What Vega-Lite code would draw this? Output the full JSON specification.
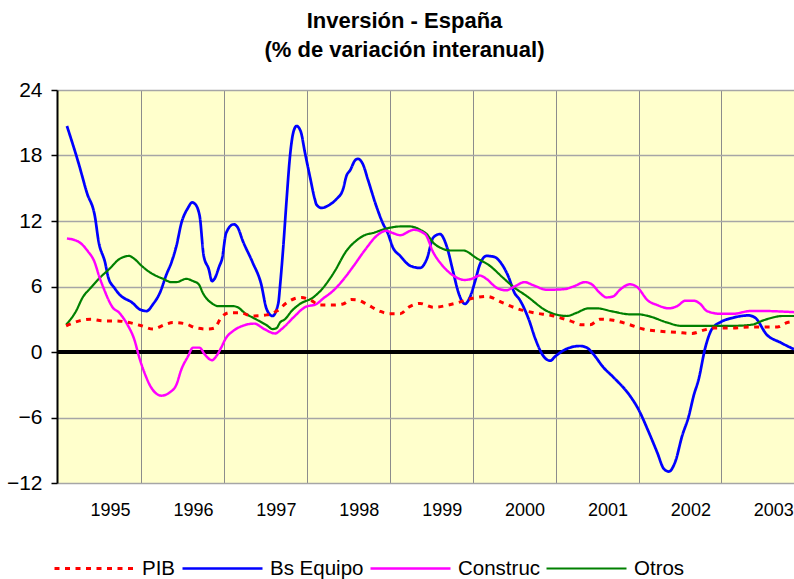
{
 "$schema": "https://vega.github.io/schema/vega-lite/v6.json",
 "width": 737,
 "height": 393,
 "autosize": {"type": "none"},
 "padding": {"left": 57, "top": 90, "right": 0, "bottom": 96},
 "background": "white",
 "title": {"text": ["Inversión - España", "(% de variación interanual)"], "font": "Liberation Sans", "fontSize": 22, "fontWeight": "bold", "lineHeight": 29, "anchor": "middle", "dx": -21, "offset": 17, "color": "black"},
 "config": {
  "view": {"stroke": null, "fill": "#FFFFCC"},
  "font": "Liberation Sans",
  "legend": {"title": null, "orient": "none", "legendX": -4, "legendY": 437, "padding": 0, "direction": "horizontal", "symbolType": "stroke", "symbolSize": 6400, "symbolStrokeWidth": 2.5, "labelFontSize": 20.5, "labelColor": "black", "labelFont": "Liberation Sans", "labelOffset": 6, "columnPadding": 1, "labelLimit": 300}
 },
 "datasets": {
  "d": [
   {"serie":"Bs Equipo","t":1994.48,"v":20.7},{"serie":"Bs Equipo","t":1994.62,"v":17.3},{"serie":"Bs Equipo","t":1994.72,"v":14.6},{"serie":"Bs Equipo","t":1994.82,"v":12.3},{"serie":"Bs Equipo","t":1994.86,"v":10.2},{"serie":"Bs Equipo","t":1994.94,"v":8.2},{"serie":"Bs Equipo","t":1994.98,"v":6.8},{"serie":"Bs Equipo","t":1995.05,"v":5.9},{"serie":"Bs Equipo","t":1995.11,"v":5.3},{"serie":"Bs Equipo","t":1995.27,"v":4.5},{"serie":"Bs Equipo","t":1995.36,"v":3.9},{"serie":"Bs Equipo","t":1995.44,"v":3.75},{"serie":"Bs Equipo","t":1995.52,"v":4.4},{"serie":"Bs Equipo","t":1995.6,"v":5.4},{"serie":"Bs Equipo","t":1995.68,"v":7.1},{"serie":"Bs Equipo","t":1995.74,"v":8.2},{"serie":"Bs Equipo","t":1995.8,"v":9.7},{"serie":"Bs Equipo","t":1995.86,"v":11.8},{"serie":"Bs Equipo","t":1995.94,"v":13.2},{"serie":"Bs Equipo","t":1995.99,"v":13.7},{"serie":"Bs Equipo","t":1996.02,"v":13.6},{"serie":"Bs Equipo","t":1996.08,"v":12.5},{"serie":"Bs Equipo","t":1996.13,"v":8.8},{"serie":"Bs Equipo","t":1996.19,"v":7.6},{"serie":"Bs Equipo","t":1996.23,"v":6.5},{"serie":"Bs Equipo","t":1996.26,"v":6.7},{"serie":"Bs Equipo","t":1996.32,"v":7.9},{"serie":"Bs Equipo","t":1996.35,"v":8.5},{"serie":"Bs Equipo","t":1996.4,"v":10.9},{"serie":"Bs Equipo","t":1996.49,"v":11.7},{"serie":"Bs Equipo","t":1996.54,"v":11.4},{"serie":"Bs Equipo","t":1996.6,"v":10.2},{"serie":"Bs Equipo","t":1996.72,"v":8.2},{"serie":"Bs Equipo","t":1996.82,"v":6.3},{"serie":"Bs Equipo","t":1996.89,"v":3.9},{"serie":"Bs Equipo","t":1996.96,"v":3.3},{"serie":"Bs Equipo","t":1997.03,"v":4.5},{"serie":"Bs Equipo","t":1997.05,"v":6.0},{"serie":"Bs Equipo","t":1997.09,"v":9.7},{"serie":"Bs Equipo","t":1997.13,"v":14.0},{"serie":"Bs Equipo","t":1997.17,"v":17.9},{"serie":"Bs Equipo","t":1997.21,"v":20.1},{"serie":"Bs Equipo","t":1997.25,"v":20.7},{"serie":"Bs Equipo","t":1997.3,"v":20.2},{"serie":"Bs Equipo","t":1997.35,"v":18.3},{"serie":"Bs Equipo","t":1997.41,"v":16.1},{"serie":"Bs Equipo","t":1997.47,"v":14.0},{"serie":"Bs Equipo","t":1997.49,"v":13.5},{"serie":"Bs Equipo","t":1997.55,"v":13.2},{"serie":"Bs Equipo","t":1997.65,"v":13.5},{"serie":"Bs Equipo","t":1997.73,"v":14.0},{"serie":"Bs Equipo","t":1997.81,"v":14.9},{"serie":"Bs Equipo","t":1997.85,"v":16.1},{"serie":"Bs Equipo","t":1997.9,"v":16.7},{"serie":"Bs Equipo","t":1997.95,"v":17.5},{"serie":"Bs Equipo","t":1997.99,"v":17.7},{"serie":"Bs Equipo","t":1998.05,"v":17.2},{"serie":"Bs Equipo","t":1998.11,"v":15.8},{"serie":"Bs Equipo","t":1998.21,"v":13.4},{"serie":"Bs Equipo","t":1998.29,"v":11.8},{"serie":"Bs Equipo","t":1998.35,"v":10.9},{"serie":"Bs Equipo","t":1998.41,"v":9.6},{"serie":"Bs Equipo","t":1998.5,"v":8.8},{"serie":"Bs Equipo","t":1998.62,"v":7.9},{"serie":"Bs Equipo","t":1998.74,"v":7.7},{"serie":"Bs Equipo","t":1998.82,"v":8.5},{"serie":"Bs Equipo","t":1998.9,"v":10.5},{"serie":"Bs Equipo","t":1998.98,"v":10.8},{"serie":"Bs Equipo","t":1999.06,"v":9.7},{"serie":"Bs Equipo","t":1999.14,"v":7.3},{"serie":"Bs Equipo","t":1999.2,"v":5.5},{"serie":"Bs Equipo","t":1999.28,"v":4.4},{"serie":"Bs Equipo","t":1999.34,"v":5.0},{"serie":"Bs Equipo","t":1999.4,"v":6.4},{"serie":"Bs Equipo","t":1999.46,"v":8.0},{"serie":"Bs Equipo","t":1999.54,"v":8.8},{"serie":"Bs Equipo","t":1999.64,"v":8.7},{"serie":"Bs Equipo","t":1999.7,"v":8.3},{"serie":"Bs Equipo","t":1999.8,"v":7.0},{"serie":"Bs Equipo","t":1999.88,"v":5.4},{"serie":"Bs Equipo","t":1999.94,"v":4.8},{"serie":"Bs Equipo","t":2000.05,"v":3.0},{"serie":"Bs Equipo","t":2000.13,"v":1.2},{"serie":"Bs Equipo","t":2000.23,"v":-0.4},{"serie":"Bs Equipo","t":2000.31,"v":-0.8},{"serie":"Bs Equipo","t":2000.37,"v":-0.4},{"serie":"Bs Equipo","t":2000.51,"v":0.3},{"serie":"Bs Equipo","t":2000.67,"v":0.55},{"serie":"Bs Equipo","t":2000.75,"v":0.4},{"serie":"Bs Equipo","t":2000.83,"v":-0.2},{"serie":"Bs Equipo","t":2000.95,"v":-1.4},{"serie":"Bs Equipo","t":2001.07,"v":-2.3},{"serie":"Bs Equipo","t":2001.27,"v":-4.0},{"serie":"Bs Equipo","t":2001.37,"v":-5.2},{"serie":"Bs Equipo","t":2001.49,"v":-7.2},{"serie":"Bs Equipo","t":2001.6,"v":-9.2},{"serie":"Bs Equipo","t":2001.68,"v":-10.7},{"serie":"Bs Equipo","t":2001.74,"v":-10.95},{"serie":"Bs Equipo","t":2001.82,"v":-10.0},{"serie":"Bs Equipo","t":2001.9,"v":-7.7},{"serie":"Bs Equipo","t":2001.98,"v":-5.9},{"serie":"Bs Equipo","t":2002.04,"v":-4.0},{"serie":"Bs Equipo","t":2002.1,"v":-2.5},{"serie":"Bs Equipo","t":2002.18,"v":0.4},{"serie":"Bs Equipo","t":2002.26,"v":2.1},{"serie":"Bs Equipo","t":2002.38,"v":2.8},{"serie":"Bs Equipo","t":2002.52,"v":3.15},{"serie":"Bs Equipo","t":2002.7,"v":3.35},{"serie":"Bs Equipo","t":2002.78,"v":3.15},{"serie":"Bs Equipo","t":2002.92,"v":1.6},{"serie":"Bs Equipo","t":2003.09,"v":0.86},{"serie":"Bs Equipo","t":2003.25,"v":0.25},
   {"serie":"Otros","t":1994.47,"v":2.5},{"serie":"Otros","t":1994.59,"v":3.75},{"serie":"Otros","t":1994.67,"v":5.0},{"serie":"Otros","t":1994.77,"v":5.9},{"serie":"Otros","t":1994.87,"v":6.75},{"serie":"Otros","t":1994.99,"v":7.6},{"serie":"Otros","t":1995.11,"v":8.5},{"serie":"Otros","t":1995.23,"v":8.8},{"serie":"Otros","t":1995.29,"v":8.55},{"serie":"Otros","t":1995.38,"v":7.9},{"serie":"Otros","t":1995.48,"v":7.3},{"serie":"Otros","t":1995.64,"v":6.7},{"serie":"Otros","t":1995.74,"v":6.4},{"serie":"Otros","t":1995.8,"v":6.4},{"serie":"Otros","t":1995.92,"v":6.7},{"serie":"Otros","t":1996.0,"v":6.5},{"serie":"Otros","t":1996.07,"v":6.2},{"serie":"Otros","t":1996.12,"v":5.4},{"serie":"Otros","t":1996.24,"v":4.4},{"serie":"Otros","t":1996.3,"v":4.2},{"serie":"Otros","t":1996.48,"v":4.2},{"serie":"Otros","t":1996.54,"v":4.1},{"serie":"Otros","t":1996.62,"v":3.6},{"serie":"Otros","t":1996.76,"v":3.0},{"serie":"Otros","t":1996.89,"v":2.45},{"serie":"Otros","t":1996.96,"v":2.1},{"serie":"Otros","t":1997.01,"v":2.2},{"serie":"Otros","t":1997.05,"v":2.7},{"serie":"Otros","t":1997.11,"v":3.0},{"serie":"Otros","t":1997.19,"v":3.75},{"serie":"Otros","t":1997.29,"v":4.4},{"serie":"Otros","t":1997.45,"v":5.0},{"serie":"Otros","t":1997.55,"v":5.7},{"serie":"Otros","t":1997.65,"v":6.7},{"serie":"Otros","t":1997.71,"v":7.4},{"serie":"Otros","t":1997.85,"v":9.25},{"serie":"Otros","t":1997.97,"v":10.2},{"serie":"Otros","t":1998.07,"v":10.7},{"serie":"Otros","t":1998.17,"v":10.9},{"serie":"Otros","t":1998.33,"v":11.3},{"serie":"Otros","t":1998.5,"v":11.5},{"serie":"Otros","t":1998.62,"v":11.5},{"serie":"Otros","t":1998.74,"v":11.2},{"serie":"Otros","t":1998.82,"v":10.8},{"serie":"Otros","t":1998.9,"v":10.0},{"serie":"Otros","t":1999.0,"v":9.5},{"serie":"Otros","t":1999.1,"v":9.3},{"serie":"Otros","t":1999.26,"v":9.3},{"serie":"Otros","t":1999.42,"v":8.6},{"serie":"Otros","t":1999.58,"v":7.9},{"serie":"Otros","t":1999.74,"v":6.8},{"serie":"Otros","t":1999.86,"v":6.0},{"serie":"Otros","t":2000.03,"v":5.1},{"serie":"Otros","t":2000.27,"v":3.75},{"serie":"Otros","t":2000.51,"v":3.3},{"serie":"Otros","t":2000.63,"v":3.6},{"serie":"Otros","t":2000.77,"v":4.0},{"serie":"Otros","t":2000.87,"v":4.0},{"serie":"Otros","t":2001.07,"v":3.7},{"serie":"Otros","t":2001.27,"v":3.45},{"serie":"Otros","t":2001.37,"v":3.45},{"serie":"Otros","t":2001.49,"v":3.3},{"serie":"Otros","t":2001.72,"v":2.7},{"serie":"Otros","t":2001.88,"v":2.4},{"serie":"Otros","t":2002.28,"v":2.4},{"serie":"Otros","t":2002.52,"v":2.4},{"serie":"Otros","t":2002.74,"v":2.5},{"serie":"Otros","t":2002.88,"v":2.9},{"serie":"Otros","t":2003.12,"v":3.3},{"serie":"Otros","t":2003.25,"v":3.3},
   {"serie":"Construc","t":1994.48,"v":10.4},{"serie":"Construc","t":1994.62,"v":10.1},{"serie":"Construc","t":1994.73,"v":9.25},{"serie":"Construc","t":1994.81,"v":8.3},{"serie":"Construc","t":1994.87,"v":6.9},{"serie":"Construc","t":1994.93,"v":5.7},{"serie":"Construc","t":1994.98,"v":4.8},{"serie":"Construc","t":1995.03,"v":4.1},{"serie":"Construc","t":1995.11,"v":3.6},{"serie":"Construc","t":1995.21,"v":2.5},{"serie":"Construc","t":1995.29,"v":1.2},{"serie":"Construc","t":1995.36,"v":-0.7},{"serie":"Construc","t":1995.42,"v":-2.0},{"serie":"Construc","t":1995.5,"v":-3.3},{"serie":"Construc","t":1995.62,"v":-4.0},{"serie":"Construc","t":1995.72,"v":-3.7},{"serie":"Construc","t":1995.8,"v":-3.0},{"serie":"Construc","t":1995.86,"v":-1.6},{"serie":"Construc","t":1995.94,"v":-0.4},{"serie":"Construc","t":1996.0,"v":0.4},{"serie":"Construc","t":1996.08,"v":0.4},{"serie":"Construc","t":1996.14,"v":-0.2},{"serie":"Construc","t":1996.23,"v":-0.75},{"serie":"Construc","t":1996.28,"v":-0.4},{"serie":"Construc","t":1996.34,"v":0.4},{"serie":"Construc","t":1996.4,"v":1.3},{"serie":"Construc","t":1996.48,"v":1.9},{"serie":"Construc","t":1996.6,"v":2.4},{"serie":"Construc","t":1996.74,"v":2.6},{"serie":"Construc","t":1996.86,"v":2.1},{"serie":"Construc","t":1996.99,"v":1.7},{"serie":"Construc","t":1997.07,"v":2.1},{"serie":"Construc","t":1997.21,"v":3.15},{"serie":"Construc","t":1997.35,"v":4.1},{"serie":"Construc","t":1997.49,"v":4.4},{"serie":"Construc","t":1997.57,"v":4.9},{"serie":"Construc","t":1997.69,"v":5.6},{"serie":"Construc","t":1997.81,"v":6.6},{"serie":"Construc","t":1997.93,"v":7.8},{"serie":"Construc","t":1998.09,"v":9.5},{"serie":"Construc","t":1998.21,"v":10.6},{"serie":"Construc","t":1998.33,"v":11.1},{"serie":"Construc","t":1998.41,"v":10.9},{"serie":"Construc","t":1998.5,"v":10.7},{"serie":"Construc","t":1998.62,"v":11.1},{"serie":"Construc","t":1998.66,"v":11.2},{"serie":"Construc","t":1998.8,"v":10.8},{"serie":"Construc","t":1998.9,"v":9.1},{"serie":"Construc","t":1999.0,"v":8.0},{"serie":"Construc","t":1999.14,"v":7.0},{"serie":"Construc","t":1999.28,"v":6.6},{"serie":"Construc","t":1999.36,"v":6.7},{"serie":"Construc","t":1999.46,"v":7.0},{"serie":"Construc","t":1999.54,"v":6.7},{"serie":"Construc","t":1999.66,"v":5.9},{"serie":"Construc","t":1999.78,"v":5.65},{"serie":"Construc","t":1999.88,"v":6.0},{"serie":"Construc","t":2000.0,"v":6.4},{"serie":"Construc","t":2000.11,"v":6.1},{"serie":"Construc","t":2000.27,"v":5.7},{"serie":"Construc","t":2000.47,"v":5.75},{"serie":"Construc","t":2000.59,"v":6.0},{"serie":"Construc","t":2000.73,"v":6.4},{"serie":"Construc","t":2000.81,"v":6.2},{"serie":"Construc","t":2000.91,"v":5.4},{"serie":"Construc","t":2000.99,"v":5.0},{"serie":"Construc","t":2001.07,"v":5.1},{"serie":"Construc","t":2001.15,"v":5.7},{"serie":"Construc","t":2001.27,"v":6.2},{"serie":"Construc","t":2001.35,"v":6.0},{"serie":"Construc","t":2001.49,"v":4.7},{"serie":"Construc","t":2001.6,"v":4.3},{"serie":"Construc","t":2001.74,"v":4.0},{"serie":"Construc","t":2001.84,"v":4.2},{"serie":"Construc","t":2001.94,"v":4.7},{"serie":"Construc","t":2002.04,"v":4.7},{"serie":"Construc","t":2002.12,"v":4.4},{"serie":"Construc","t":2002.2,"v":3.75},{"serie":"Construc","t":2002.36,"v":3.5},{"serie":"Construc","t":2002.52,"v":3.5},{"serie":"Construc","t":2002.72,"v":3.75},{"serie":"Construc","t":2002.92,"v":3.75},{"serie":"Construc","t":2003.12,"v":3.7},{"serie":"Construc","t":2003.25,"v":3.65},
   {"serie":"PIB","t":1994.47,"v":2.4},{"serie":"PIB","t":1994.63,"v":2.85},{"serie":"PIB","t":1994.77,"v":3.0},{"serie":"PIB","t":1994.91,"v":2.85},{"serie":"PIB","t":1995.07,"v":2.85},{"serie":"PIB","t":1995.23,"v":2.7},{"serie":"PIB","t":1995.38,"v":2.4},{"serie":"PIB","t":1995.52,"v":2.1},{"serie":"PIB","t":1995.66,"v":2.5},{"serie":"PIB","t":1995.76,"v":2.7},{"serie":"PIB","t":1995.9,"v":2.6},{"serie":"PIB","t":1996.04,"v":2.2},{"serie":"PIB","t":1996.18,"v":2.1},{"serie":"PIB","t":1996.26,"v":2.2},{"serie":"PIB","t":1996.34,"v":3.15},{"serie":"PIB","t":1996.44,"v":3.6},{"serie":"PIB","t":1996.56,"v":3.6},{"serie":"PIB","t":1996.72,"v":3.3},{"serie":"PIB","t":1996.89,"v":3.4},{"serie":"PIB","t":1997.01,"v":3.75},{"serie":"PIB","t":1997.13,"v":4.5},{"serie":"PIB","t":1997.23,"v":4.9},{"serie":"PIB","t":1997.31,"v":5.0},{"serie":"PIB","t":1997.43,"v":4.7},{"serie":"PIB","t":1997.53,"v":4.3},{"serie":"PIB","t":1997.69,"v":4.3},{"serie":"PIB","t":1997.81,"v":4.4},{"serie":"PIB","t":1997.91,"v":4.8},{"serie":"PIB","t":1997.99,"v":4.75},{"serie":"PIB","t":1998.09,"v":4.4},{"serie":"PIB","t":1998.25,"v":3.75},{"serie":"PIB","t":1998.37,"v":3.5},{"serie":"PIB","t":1998.5,"v":3.5},{"serie":"PIB","t":1998.6,"v":4.1},{"serie":"PIB","t":1998.74,"v":4.45},{"serie":"PIB","t":1998.9,"v":4.1},{"serie":"PIB","t":1999.16,"v":4.45},{"serie":"PIB","t":1999.42,"v":5.0},{"serie":"PIB","t":1999.54,"v":5.1},{"serie":"PIB","t":1999.74,"v":4.5},{"serie":"PIB","t":1999.9,"v":4.0},{"serie":"PIB","t":2000.11,"v":3.6},{"serie":"PIB","t":2000.35,"v":3.3},{"serie":"PIB","t":2000.55,"v":2.85},{"serie":"PIB","t":2000.69,"v":2.5},{"serie":"PIB","t":2000.79,"v":2.5},{"serie":"PIB","t":2000.91,"v":3.0},{"serie":"PIB","t":2001.07,"v":2.9},{"serie":"PIB","t":2001.27,"v":2.5},{"serie":"PIB","t":2001.43,"v":2.1},{"serie":"PIB","t":2001.64,"v":1.9},{"serie":"PIB","t":2001.84,"v":1.8},{"serie":"PIB","t":2002.02,"v":1.7},{"serie":"PIB","t":2002.16,"v":2.0},{"serie":"PIB","t":2002.28,"v":2.2},{"serie":"PIB","t":2002.52,"v":2.2},{"serie":"PIB","t":2002.72,"v":2.3},{"serie":"PIB","t":2003.05,"v":2.3},{"serie":"PIB","t":2003.17,"v":2.7},{"serie":"PIB","t":2003.25,"v":2.8}
  ]
 },
 "data": {"name": "d"},
 "layer": [
  {
   "mark": {"type": "rule", "color": "black", "strokeWidth": 4},
   "encoding": {"y": {"datum": 0, "type": "quantitative"}}
  },
  {
   "mark": {"type": "line", "interpolate": "monotone", "clip": true},
   "encoding": {
    "x": {"field": "t", "type": "quantitative",
     "scale": {"domain": [1994.36, 2003.25], "nice": false, "zero": false},
     "axis": {"title": null, "values": [1995, 1995.375, 1996, 1996.375, 1997, 1997.375, 1998, 1998.375, 1999, 1999.375, 2000, 2000.375, 2001, 2001.375, 2002, 2002.375, 2003],
      "grid": true, "gridColor": "#8C8C8C", "gridWidth": 1,
      "gridOpacity": {"condition": {"test": "datum.value % 1 != 0", "value": 1}, "value": 0},
      "ticks": false, "domain": false,
      "labelExpr": "datum.value % 1 == 0 ? format(datum.value, 'd') : ''",
      "labelFontSize": 18, "labelColor": "black", "labelFont": "Liberation Sans", "labelPadding": 18, "labelFlush": false, "labelOverlap": false}},
    "y": {"field": "v", "type": "quantitative",
     "scale": {"domain": [-12, 24], "nice": false},
     "axis": {"title": null, "values": [-12, -6, 0, 6, 12, 18, 24], "grid": true, "gridColor": "#A6A6A6", "gridWidth": 1.5,
      "domain": true, "domainColor": "black", "domainWidth": 2, "ticks": true, "tickColor": "black", "tickSize": 6, "tickWidth": 1.5,
      "labelFontSize": 21, "labelColor": "black", "labelFont": "Liberation Sans", "labelPadding": 9}},
    "color": {"field": "serie", "type": "nominal",
     "scale": {"domain": ["PIB", "Bs Equipo", "Construc", "Otros"], "range": ["#FF0000", "#0000FF", "#FF00FF", "#008000"]},
     "legend": {"title": null}},
    "strokeDash": {"field": "serie", "type": "nominal",
     "scale": {"domain": ["PIB", "Bs Equipo", "Construc", "Otros"], "range": [[5, 5.5], [1, 0], [1, 0], [1, 0]]},
     "legend": {"title": null}},
    "strokeWidth": {"field": "serie", "type": "nominal",
     "scale": {"domain": ["PIB", "Bs Equipo", "Construc", "Otros"], "range": [3, 2.2, 2.2, 2.2]},
     "legend": null}
   }
  }
 ]
}
